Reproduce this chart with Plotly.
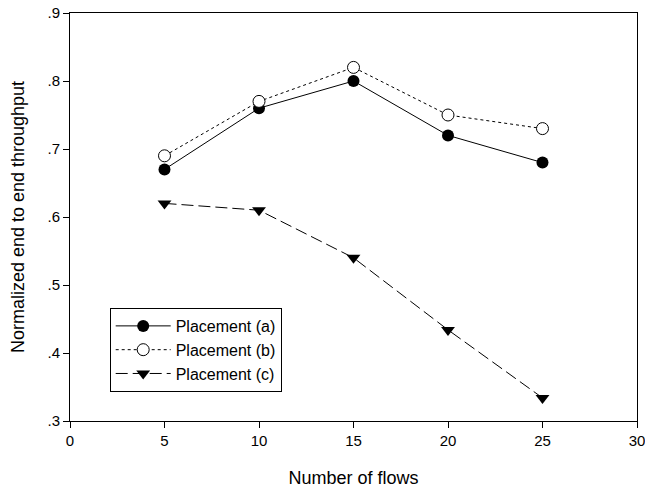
import plotly.graph_objects as go

flows = [5, 10, 15, 20, 25]
placement_a = [0.67, 0.76, 0.80, 0.72, 0.68]
placement_b = [0.69, 0.77, 0.82, 0.75, 0.73]
placement_c = [0.62, 0.61, 0.54, 0.434, 0.334]

y_ticks = [0.3, 0.4, 0.5, 0.6, 0.7, 0.8, 0.9]
y_tick_labels = [".3", ".4", ".5", ".6", ".7", ".8", ".9"]
x_ticks = [0, 5, 10, 15, 20, 25, 30]

fig = go.Figure()
fig.add_trace(go.Scatter(x=flows, y=placement_a, name="Placement (a)", mode="lines+markers",
                         line=dict(color="black", width=1, dash="solid"),
                         marker=dict(symbol="circle", size=12, color="black")))
fig.add_trace(go.Scatter(x=flows, y=placement_b, name="Placement (b)", mode="lines+markers",
                         line=dict(color="black", width=1, dash="dot"),
                         marker=dict(symbol="circle", size=12, color="white", line=dict(color="black", width=1))))
fig.add_trace(go.Scatter(x=flows, y=placement_c, name="Placement (c)", mode="lines+markers",
                         line=dict(color="black", width=1, dash="12px,5px"),
                         marker=dict(symbol="triangle-down", size=12, color="black")))

font = dict(family="Liberation Sans, Arial, sans-serif", size=15, color="black")
fig.update_layout(
    width=645, height=491,
    margin=dict(l=70, r=8, t=13, b=70, autoexpand=False),
    paper_bgcolor="white", plot_bgcolor="white",
    font=font,
    showlegend=True,
    legend=dict(x=0.07, y=0.277, xanchor="left", yanchor="top",
                bordercolor="black", borderwidth=1, bgcolor="white",
                font=dict(family="Liberation Sans, Arial, sans-serif", size=16),
                tracegroupgap=0, itemwidth=55),
    xaxis=dict(range=[0, 30], tickvals=x_ticks, ticks="outside", ticklen=6, tickcolor="black",
               showline=True, linecolor="black", linewidth=1, mirror=True, showgrid=False,
               zeroline=False, automargin=False, ticklabeloverflow="allow",
               title=dict(text="Number of flows", standoff=23)),
    yaxis=dict(range=[0.3, 0.9], tickvals=y_ticks, ticktext=y_tick_labels, ticks="outside",
               ticklen=6, tickcolor="black", showline=True, linecolor="black", linewidth=1,
               mirror=True, showgrid=False, zeroline=False, automargin=False,
               ticklabeloverflow="allow",
               title=dict(text="Normalized end to end throughput", standoff=18)),
)

fig.write_html("out.html", config={"displayModeBar": False},
               post_script="document.body.style.margin='0';")
